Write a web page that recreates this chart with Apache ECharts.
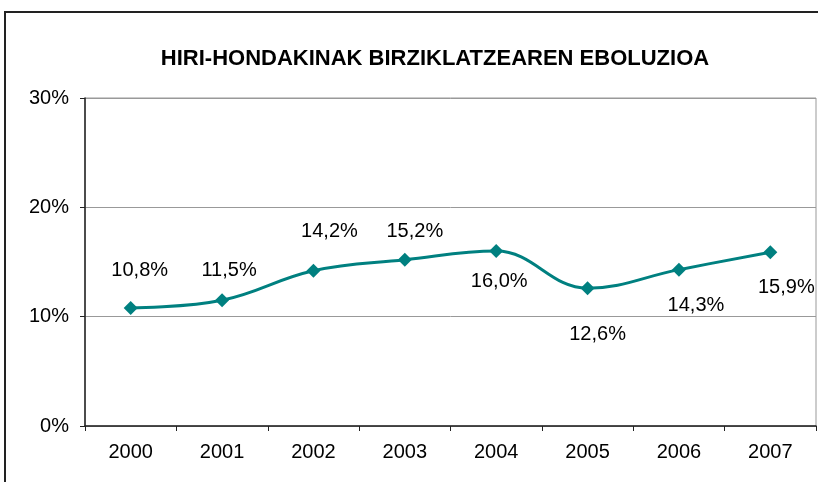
<!DOCTYPE html>
<html>
<head>
<meta charset="utf-8">
<script src="https://cdn.jsdelivr.net/npm/echarts@6/dist/echarts.min.js"></script>
<style>
  html, body { margin: 0; padding: 0; background: #fff; }
</style>
</head>
<body>
<div id="main" style="width: 818px;height:482px;"></div>
<script>
    var years = ['2000', '2001', '2002', '2003', '2004', '2005', '2006', '2007'];
    var rates = [10.8, 11.5, 14.2, 15.2, 16.0, 12.6, 14.3, 15.9];
    var yTicks = [0, 10, 20, 30];

    // where each value label sits relative to its point
    var labelOffsets = [[9, -37], [7, -30], [16, -39], [10, -28], [3, 30], [10, 46], [17, 36], [16, 35]];

    var fontFam = '"Liberation Sans", Arial, sans-serif';
    var myChart = echarts.init(document.getElementById('main'));

    var option = {
        backgroundColor: '#FFFFFF',
        animation: false,
        title: {
            text: 'HIRI-HONDAKINAK BIRZIKLATZEAREN EBOLUZIOA',
            left: 430,
            top: 43,
            textAlign: 'center',
            textStyle: {color: '#000', fontSize: 22, fontWeight: 'bold', fontFamily: fontFam}
        },
        graphic: [{
            type: 'rect',
            shape: {x: 5, y: 12, width: 840, height: 500},
            style: {fill: 'none', stroke: '#222', lineWidth: 2},
            silent: true
        }],
        grid: {
            show: true,
            left: 85,
            right: 2,
            top: 98,
            bottom: 56,
            borderColor: '#999',
            borderWidth: 1
        },
        xAxis: {
            type: 'category',
            data: years,
            boundaryGap: true,
            axisLine: {lineStyle: {color: '#222', width: 1.5}},
            axisTick: {show: true, length: 5, interval: 0, lineStyle: {color: '#222'}},
            axisLabel: {color: '#000', fontSize: 20, fontFamily: fontFam, margin: 16}
        },
        yAxis: {
            type: 'value',
            min: yTicks[0],
            max: yTicks[yTicks.length - 1],
            interval: 10,
            axisLine: {show: true, lineStyle: {color: '#222', width: 1.5}},
            axisTick: {show: true, length: 5, lineStyle: {color: '#222'}},
            axisLabel: {color: '#000', fontSize: 20, fontFamily: fontFam, margin: 16, formatter: '{value}%'},
            splitLine: {show: true, lineStyle: {color: '#999', width: 1}}
        },
        series: [{
            type: 'line',
            data: rates.map(function (v, i) {
                return {
                    value: v,
                    label: {offset: labelOffsets[i]}
                };
            }),
            smooth: 0.4,
            symbol: 'diamond',
            symbolSize: 14,
            lineStyle: {color: '#008080', width: 3},
            itemStyle: {color: '#008080'},
            label: {
                show: true,
                position: 'inside',
                color: '#000',
                fontSize: 20,
                fontFamily: fontFam,
                formatter: function (p) {
                    return p.value.toFixed(1).replace('.', ',') + '%';
                }
            }
        }]
    };

    myChart.setOption(option);
</script>
</body>
</html>
